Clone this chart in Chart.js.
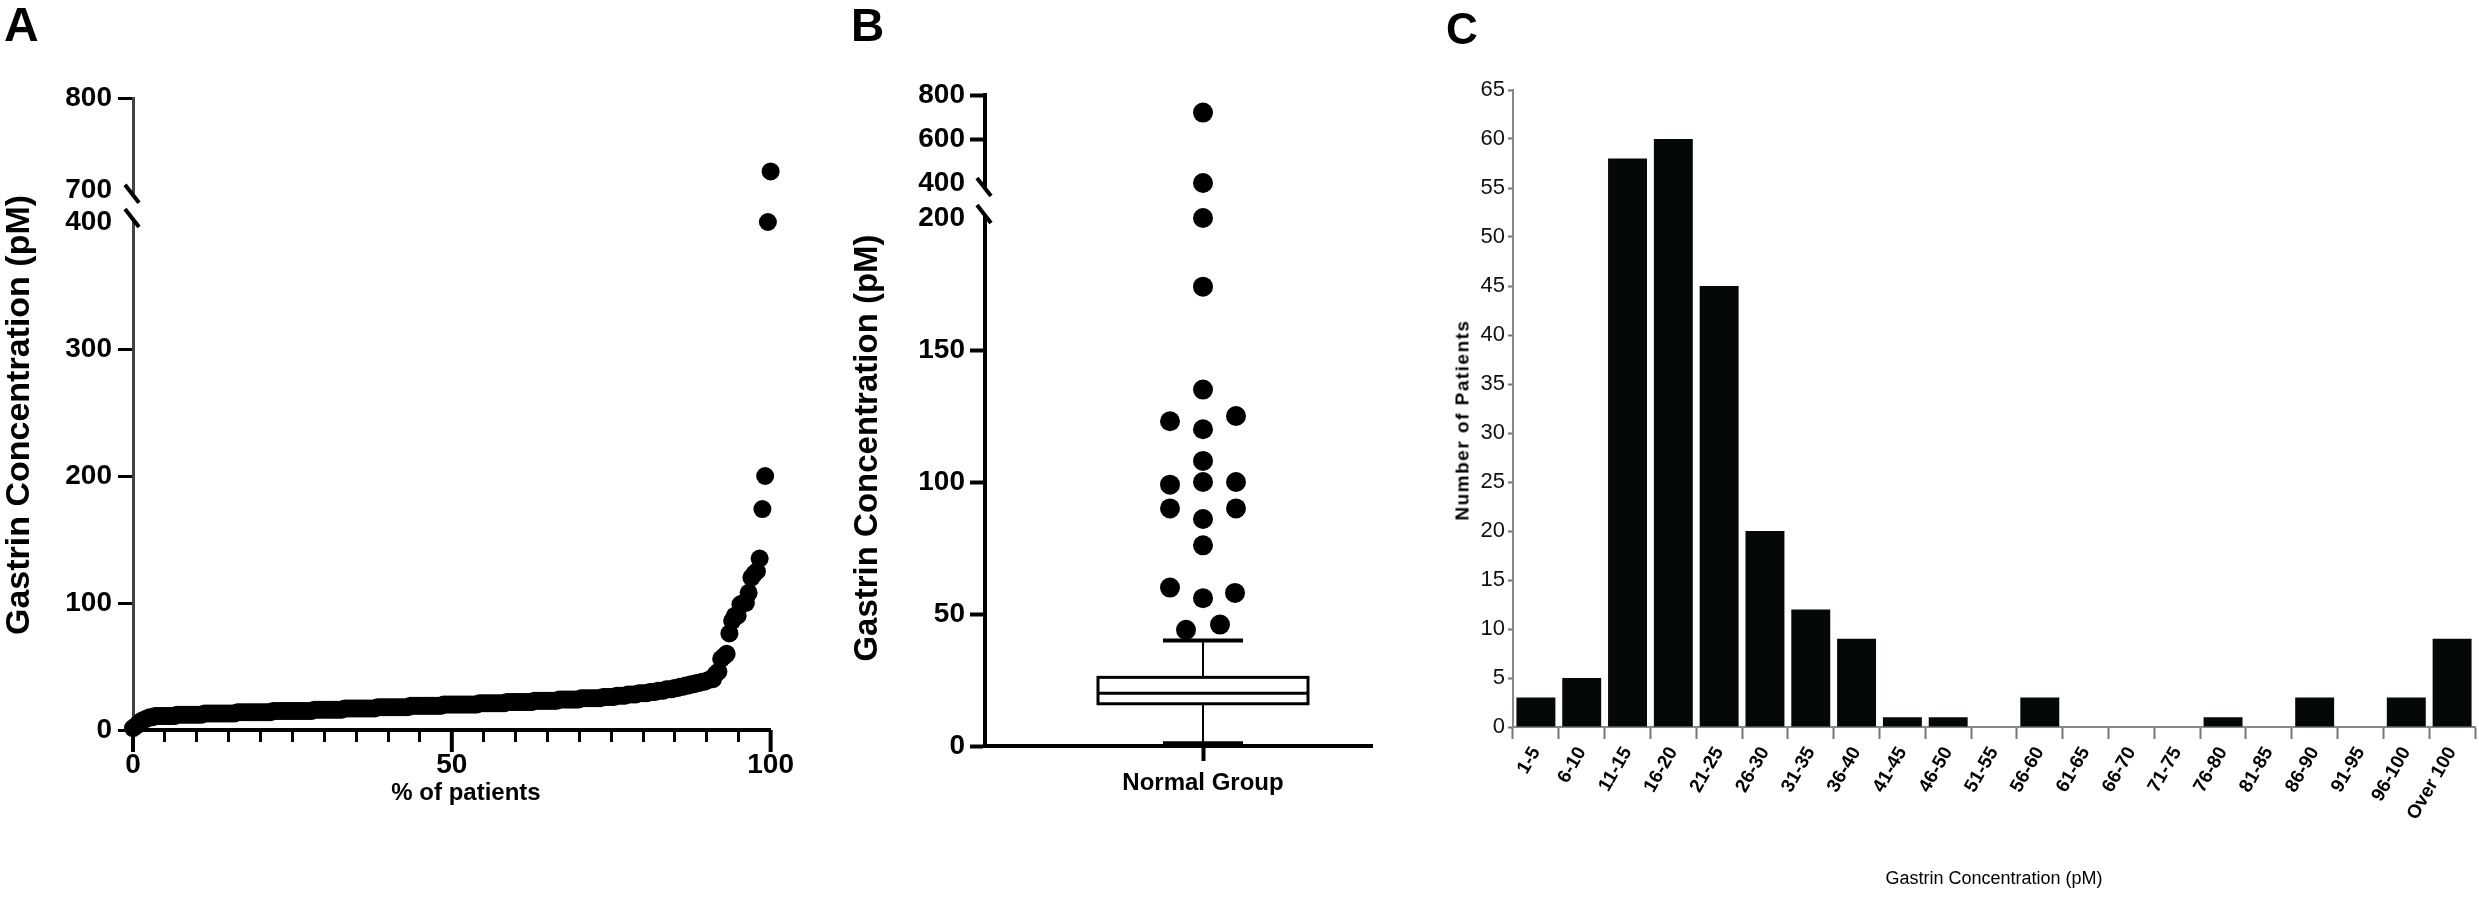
<!DOCTYPE html>
<html>
<head>
<meta charset="utf-8">
<script src="https://cdn.jsdelivr.net/npm/chart.js@4.4.1/dist/chart.umd.min.js"></script>
<style>
  html, body { margin: 0; padding: 0; background: #fff; }
  body { width: 2479px; height: 903px; position: relative; overflow: hidden; font-family: "Liberation Sans", Arial, sans-serif; }
  .panel { position: absolute; top: 0; height: 903px; }
  .lbl { position: absolute; line-height: 1; white-space: nowrap; color: #000; }
  .b { font-weight: bold; }
  .rot { transform: translate(-50%, -50%) rotate(-90deg); }
  .ctr { transform: translate(-50%, -50%); }
</style>
</head>
<body>
<div class="panel" style="left:0;width:800px"><canvas id="chartA"></canvas></div>
<div class="panel" style="left:820px;width:600px"><canvas id="chartB"></canvas></div>
<div class="panel" style="left:1420px;width:1059px"><canvas id="chartC"></canvas></div>

<div class="lbl b" style="left:4px;top:1px;font-size:48px">A</div>
<div class="lbl b" style="left:851px;top:2px;font-size:46px">B</div>
<div class="lbl b" style="left:1446px;top:7px;font-size:44px">C</div>

<div class="lbl b rot" style="left:17px;top:415px;font-size:34px">Gastrin Concentration (pM)</div>
<div class="lbl b ctr" style="left:466px;top:792px;font-size:24px">% of patients</div>
<div class="lbl b rot" style="left:865px;top:448px;font-size:33px">Gastrin Concentration (pM)</div>
<div class="lbl b rot" style="left:1462px;top:420px;font-size:19px;letter-spacing:1.5px">Number of Patients</div>
<div class="lbl ctr" style="left:1994px;top:878px;font-size:18px">Gastrin Concentration (pM)</div>

<script>
// A: every patient's gastrin value (pM), lowest to highest
const gastrinSorted = [
  1.5, 3, 5,
  7, 8, 9, 10, 10,
  11, 11, 11, 11, 11, 11, 11, 11,
  12, 12, 12, 12, 12, 12, 12, 12, 12, 12,
  13, 13, 13, 13, 13, 13, 13, 13, 13, 13, 13, 13,
  14, 14, 14, 14, 14, 14, 14, 14, 14, 14, 14, 14, 14,
  15, 15, 15, 15, 15, 15, 15, 15, 15, 15, 15, 15, 15, 15, 15,
  16, 16, 16, 16, 16, 16, 16, 16, 16, 16, 16,
  17, 17, 17, 17, 17, 17, 17, 17, 17, 17, 17, 17,
  18, 18, 18, 18, 18, 18, 18, 18, 18, 18, 18, 18,
  19, 19, 19, 19, 19, 19, 19, 19, 19, 19, 19, 19,
  20, 20, 20, 20, 20, 20, 20, 20, 20, 20, 20, 20, 20,
  21, 21, 21, 21, 21, 21, 21, 21, 21, 21,
  22, 22, 22, 22, 22, 22, 22, 22, 22, 22,
  23, 23, 23, 23, 23, 23, 23, 23, 23,
  24, 24, 24, 24, 24, 24, 24, 24,
  25, 25, 25, 25, 25, 25, 25, 25,
  26, 26, 26, 26, 26, 27, 27, 27, 27, 28, 28, 28, 28, 29, 29, 29, 29, 30, 30, 30,
  31, 31, 31, 32, 32, 32, 33, 33, 34, 34, 35, 35,
  36, 36, 37, 37, 38, 38, 39, 40, 40,
  44, 46, 56, 58, 60, 76, 86, 90, 90, 99, 100, 100,
  108, 120, 123, 125, 135, 174, 200, 400, 720
];

// B: box-and-whisker summary [min, Q1, median, Q3, upper whisker] and the outliers
const boxStats = [1, 16, 20, 26, 40];
const outlierValues = [44, 46, 56, 58, 60, 76, 86, 90, 90, 99, 100, 100, 108, 120, 123, 125, 135, 174, 200, 400, 720];
const outlierJitter = [-0.17, 0.17, 0, 0.32, -0.33, 0, 0, -0.33, 0.33, -0.33, 0, 0.33, 0, 0, -0.33, 0.33, 0, 0, 0, 0, 0];
const groupLabels = ['Normal Group'];

// C: histogram
const binLabels = ['1-5', '6-10', '11-15', '16-20', '21-25', '26-30', '31-35', '36-40', '41-45', '46-50',
  '51-55', '56-60', '61-65', '66-70', '71-75', '76-80', '81-85', '86-90', '91-95', '96-100', 'Over 100'];
const patientCounts = [3, 5, 58, 60, 45, 20, 12, 9, 1, 1, 0, 3, 0, 0, 0, 1, 0, 3, 0, 3, 9];

Chart.defaults.font.family = '"Liberation Sans", Arial, sans-serif';
Chart.defaults.color = '#000';

const dots = (r) => ({ pointRadius: r, pointHoverRadius: r, pointBackgroundColor: '#000', pointBorderWidth: 0, showLine: false, clip: false });
const hideTick = (v) => (c) => (c.tick && c.tick.value === v ? 'rgba(0,0,0,0)' : '#000');

// draws the // marks where the y axis is cut
const axisBreak = (lowId, highId, highTick) => ({
  id: 'axisBreak',
  afterDraw(chart) {
    const ctx = chart.ctx;
    const x = chart.chartArea.left - 1;
    const y1 = chart.scales[highId].getPixelForValue(highTick) + 4;
    const y2 = chart.scales[lowId].top - 4;
    ctx.save();
    ctx.fillStyle = '#fff';
    ctx.fillRect(x - 5, y1, 10, y2 - y1);
    ctx.strokeStyle = '#000';
    ctx.lineWidth = 4;
    [y1, y2].forEach(y => {
      ctx.beginPath();
      ctx.moveTo(x - 7, y - 9);
      ctx.lineTo(x + 7, y + 9);
      ctx.stroke();
    });
    ctx.restore();
  }
});

// ---------- A ----------
const lowA = [], highA = [];
gastrinSorted.forEach((v, i) => {
  const pt = { x: i / (gastrinSorted.length - 1) * 100, y: v };
  (v > 400 ? highA : lowA).push(pt);
});

const majorTicksA = {
  id: 'majorTicksA',
  afterDraw(chart) {
    const sx = chart.scales.x, ctx = chart.ctx;
    ctx.save();
    ctx.strokeStyle = '#000';
    ctx.lineWidth = 4;
    sx.ticks.forEach(t => {
      if (t.value % 50 !== 0) return;
      const px = sx.getPixelForValue(t.value);
      ctx.beginPath();
      ctx.moveTo(px, sx.top);
      ctx.lineTo(px, sx.top + 22);
      ctx.stroke();
    });
    ctx.restore();
  }
};

const tickFontBig = { size: 28, weight: 'bold' };

new Chart(document.getElementById('chartA'), {
  type: 'scatter',
  data: {
    datasets: [
      { data: lowA, yAxisID: 'yLow', ...dots(9) },
      { data: highA, yAxisID: 'yHigh', ...dots(9) }
    ]
  },
  options: {
    animation: false,
    responsive: true,
    maintainAspectRatio: false,
    devicePixelRatio: 1,
    layout: { padding: { left: 0, top: 98, right: 26, bottom: 0 } },
    plugins: { legend: { display: false }, tooltip: { enabled: false } },
    scales: {
      x: {
        type: 'linear', min: 0, max: 100,
        afterFit: s => { s.height = 173; },
        ticks: { stepSize: 5, autoSkip: false, maxRotation: 0, padding: 6, font: tickFontBig,
          callback: v => (v % 50 === 0 ? v : '') },
        grid: { drawOnChartArea: false, tickLength: 12, tickWidth: 3, tickColor: '#000' },
        border: { color: '#000', width: 4 }
      },
      yHigh: {
        type: 'linear', min: 665, max: 800, stack: 'a', stackWeight: 124, weight: 1,
        afterFit: s => { s.width = 133; },
        afterBuildTicks: s => { s.ticks = [{ value: 700 }, { value: 800 }]; },
        ticks: { padding: 6, font: tickFontBig },
        grid: { drawOnChartArea: false, tickLength: 15, tickWidth: 3, tickColor: hideTick(700) },
        border: { color: '#444', width: 3 }
      },
      yLow: {
        type: 'linear', min: 0, max: 400, stack: 'a', stackWeight: 508, weight: 0,
        afterFit: s => { s.width = 133; },
        ticks: { stepSize: 100, padding: 6, font: tickFontBig },
        grid: { drawOnChartArea: false, tickLength: 15, tickWidth: 3, tickColor: hideTick(400) },
        border: { color: '#444', width: 3 }
      }
    }
  },
  plugins: [axisBreak('yLow', 'yHigh', 700), majorTicksA]
});

// ---------- B ----------
const lowB = [], highB = [];
outlierValues.forEach((v, i) => {
  const pt = { x: outlierJitter[i], y: v };
  (v > 200 ? highB : lowB).push(pt);
});

const boxPlot = {
  id: 'boxPlot',
  beforeDatasetsDraw(chart) {
    const ctx = chart.ctx, sx = chart.scales.x, sy = chart.scales.yLow;
    const [lo, q1, med, q3, hi] = boxStats;
    const cx = sx.getPixelForValue(0);
    const bx0 = sx.getPixelForValue(-1.05), bx1 = sx.getPixelForValue(1.05);
    const c0 = sx.getPixelForValue(-0.4), c1 = sx.getPixelForValue(0.4);
    const seg = (x0, y0, x1, y1) => { ctx.beginPath(); ctx.moveTo(x0, y0); ctx.lineTo(x1, y1); ctx.stroke(); };
    ctx.save();
    ctx.strokeStyle = '#000';
    ctx.lineWidth = 2;
    seg(cx, sy.getPixelForValue(q3), cx, sy.getPixelForValue(hi));
    seg(cx, sy.getPixelForValue(q1), cx, sy.getPixelForValue(lo));
    ctx.lineWidth = 4;
    seg(c0, sy.getPixelForValue(hi), c1, sy.getPixelForValue(hi));
    seg(c0, sy.getPixelForValue(lo), c1, sy.getPixelForValue(lo));
    const top = sy.getPixelForValue(q3), bot = sy.getPixelForValue(q1);
    ctx.fillStyle = '#fff';
    ctx.fillRect(bx0, top, bx1 - bx0, bot - top);
    ctx.lineWidth = 3;
    ctx.strokeRect(bx0, top, bx1 - bx0, bot - top);
    seg(bx0, sy.getPixelForValue(med), bx1, sy.getPixelForValue(med));
    ctx.restore();
  }
};

new Chart(document.getElementById('chartB'), {
  type: 'scatter',
  data: {
    datasets: [
      { data: lowB, yAxisID: 'yLow', ...dots(10) },
      { data: highB, yAxisID: 'yHigh', ...dots(10) }
    ]
  },
  options: {
    animation: false,
    responsive: true,
    maintainAspectRatio: false,
    devicePixelRatio: 1,
    layout: { padding: { left: 0, top: 95, right: 48, bottom: 0 } },
    plugins: { legend: { display: false }, tooltip: { enabled: false } },
    scales: {
      x: {
        type: 'linear', min: -2.18, max: 1.69,
        afterFit: s => { s.height = 157; },
        afterBuildTicks: s => { s.ticks = [{ value: 0 }]; },
        ticks: { padding: 8, maxRotation: 0, font: { size: 24, weight: 'bold' }, callback: () => groupLabels[0] },
        grid: { drawOnChartArea: false, tickLength: 15, tickWidth: 4, tickColor: '#000' },
        border: { color: '#000', width: 4 }
      },
      yHigh: {
        type: 'linear', min: 241, max: 800, stack: 'b', stackWeight: 123, weight: 1,
        afterFit: s => { s.width = 165; },
        afterBuildTicks: s => { s.ticks = [{ value: 400 }, { value: 600 }, { value: 800 }]; },
        ticks: { padding: 5, font: tickFontBig },
        grid: { drawOnChartArea: false, tickLength: 15, tickWidth: 4, tickColor: hideTick(400) },
        border: { color: '#000', width: 4 }
      },
      yLow: {
        type: 'linear', min: 0, max: 200, stack: 'b', stackWeight: 528, weight: 0,
        afterFit: s => { s.width = 165; },
        ticks: { stepSize: 50, padding: 5, font: tickFontBig },
        grid: { drawOnChartArea: false, tickLength: 15, tickWidth: 4, tickColor: hideTick(200) },
        border: { color: '#000', width: 4 }
      }
    }
  },
  plugins: [boxPlot, axisBreak('yLow', 'yHigh', 400)]
});

// ---------- C ----------
new Chart(document.getElementById('chartC'), {
  type: 'bar',
  data: {
    labels: binLabels,
    datasets: [{
      data: patientCounts,
      backgroundColor: '#050808',
      borderWidth: 0,
      barPercentage: 0.85,
      categoryPercentage: 1
    }]
  },
  options: {
    animation: false,
    responsive: true,
    maintainAspectRatio: false,
    devicePixelRatio: 1,
    layout: { padding: { left: 0, top: 90, right: 4, bottom: 0 } },
    plugins: { legend: { display: false }, tooltip: { enabled: false } },
    scales: {
      x: {
        afterFit: s => { s.height = 176; },
        ticks: { autoSkip: false, minRotation: 60, maxRotation: 60, padding: 4, color: '#000', font: { size: 19, weight: 'bold' } },
        grid: { offset: true, drawOnChartArea: false, tickLength: 12, tickWidth: 2, tickColor: '#777' },
        border: { color: '#888', width: 2 }
      },
      y: {
        min: 0, max: 65,
        afterFit: s => { s.width = 93; },
        ticks: { stepSize: 5, padding: 3, color: '#111', font: { size: 22 } },
        grid: { drawOnChartArea: false, tickLength: 5, tickWidth: 2, tickColor: '#777' },
        border: { color: '#888', width: 2 }
      }
    }
  }
});
</script>
</body>
</html>
